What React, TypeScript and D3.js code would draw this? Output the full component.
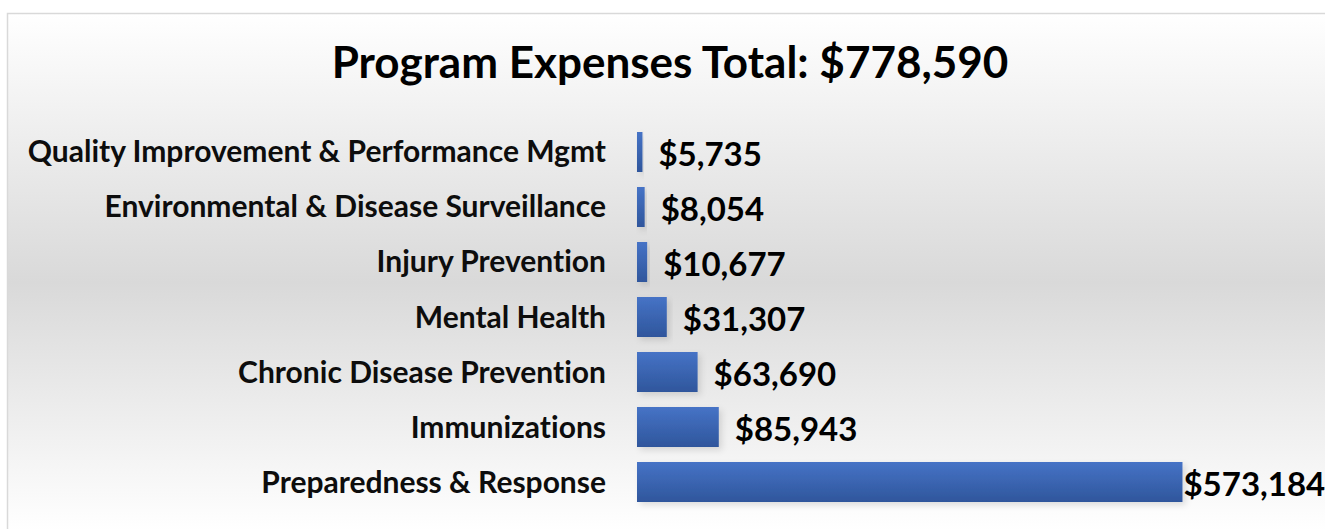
import React, { useEffect, useRef } from 'react';
import * as d3 from 'd3';

const categories = [
  'Quality Improvement & Performance Mgmt',
  'Environmental & Disease Surveillance',
  'Injury Prevention',
  'Mental Health',
  'Chronic Disease Prevention',
  'Immunizations',
  'Preparedness & Response',
];
const expenses = [5735, 8054, 10677, 31307, 63690, 85943, 573184];
const total = 778590;

const width = 1325;
const height = 529;
const font = 'Lato, "Open Sans", sans-serif';

const App = () => {
  const chartRef = useRef<SVGSVGElement>(null);

  useEffect(() => {
    const svg = d3.select(chartRef.current);
    svg.selectAll('*').remove();

    const defs = svg.append('defs');

    // chart area background: white -> gray -> white
    const bg = defs.append('linearGradient')
      .attr('id', 'bg')
      .attr('x1', 0).attr('y1', 0).attr('x2', 0).attr('y2', 1);
    bg.append('stop').attr('offset', '0%').attr('stop-color', '#ffffff');
    bg.append('stop').attr('offset', '52%').attr('stop-color', '#d9d9d9');
    bg.append('stop').attr('offset', '100%').attr('stop-color', '#ffffff');

    const barGrad = defs.append('linearGradient')
      .attr('id', 'bar')
      .attr('x1', 0).attr('y1', 0).attr('x2', 0).attr('y2', 1);
    barGrad.append('stop').attr('offset', '0%').attr('stop-color', '#4673c6');
    barGrad.append('stop').attr('offset', '100%').attr('stop-color', '#2f569c');

    const shadow = defs.append('filter').attr('id', 'shadow')
      .attr('x', '-10%').attr('y', '-20%').attr('width', '130%').attr('height', '160%');
    shadow.append('feDropShadow')
      .attr('dx', 3).attr('dy', 3).attr('stdDeviation', 3)
      .attr('flood-color', '#000').attr('flood-opacity', 0.12);

    svg.append('rect')
      .attr('x', 7.5).attr('y', 13.5)
      .attr('width', width + 20).attr('height', height - 12)
      .attr('fill', 'url(#bg)')
      .attr('stroke', '#d9d9d9')
      .attr('stroke-width', 1.5);

    svg.append('text')
      .attr('x', 670).attr('y', 78)
      .attr('text-anchor', 'middle')
      .style('font-family', font)
      .style('font-weight', 700)
      .style('font-size', '44px')
      .style('font-variant-ligatures', 'none')
      .style('fill', '#000')
      .text(`Program Expenses Total: ${d3.format('$,')(total)}`);

    const y = d3.scaleBand<string>()
      .domain(categories)
      .range([117, 517])
      .padding(0.2727);

    const x = d3.scaleLinear()
      .domain([0, 600000])
      .range([637, 1208]);

    const data = categories.map((c, i) => ({ label: c, value: expenses[i] }));

    svg.append('g')
      .selectAll('rect')
      .data(data)
      .enter()
      .append('rect')
      .attr('x', x(0))
      .attr('y', d => y(d.label)!)
      .attr('width', d => x(d.value) - x(0))
      .attr('height', y.bandwidth())
      .attr('fill', 'url(#bar)')
      .attr('filter', 'url(#shadow)');

    // category labels
    svg.append('g')
      .selectAll('text')
      .data(data)
      .enter()
      .append('text')
      .attr('x', 606)
      .attr('y', d => y(d.label)! + y.bandwidth() / 2)
      .attr('dy', '0.35em')
      .attr('text-anchor', 'end')
      .style('font-family', font)
      .style('font-weight', 700)
      .style('font-size', '30px')
      .style('font-variant-ligatures', 'none')
      .style('fill', '#0d0d0d')
      .text(d => d.label);

    // value labels, pulled back inside the chart when they would overflow
    svg.append('g')
      .selectAll('text')
      .data(data)
      .enter()
      .append('text')
      .attr('x', d => x(d.value) + 16)
      .attr('y', d => y(d.label)! + y.bandwidth() / 2 + 2)
      .attr('dy', '0.35em')
      .style('font-family', font)
      .style('font-weight', 700)
      .style('font-size', '33px')
      .style('fill', '#000')
      .text(d => d3.format('$,')(d.value))
      .each(function (d) {
        const w = (this as SVGTextElement).getComputedTextLength();
        const x0 = x(d.value) + 16;
        if (x0 + w > width - 2) d3.select(this).attr('x', x(d.value) + 1);
      });
  }, []);

  return (
    <div>
      <style>{`body { margin: 0; }`}</style>
      <svg ref={chartRef} width={width} height={height} style={{ display: 'block' }}></svg>
    </div>
  );
};

export default App;
